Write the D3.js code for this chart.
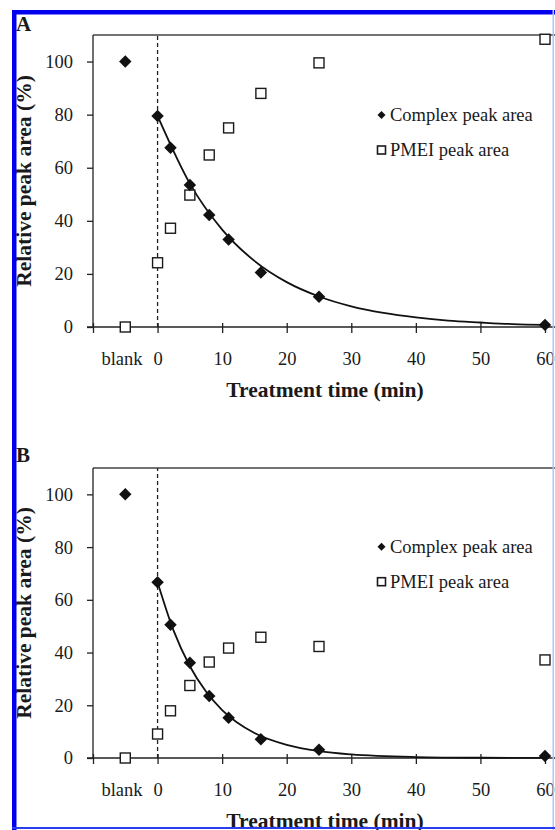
<!DOCTYPE html>
<html>
<head>
<meta charset="utf-8">
<script src="https://cdn.jsdelivr.net/npm/d3@7"></script>
<style>
  body { margin: 0; background: #fff; }
  svg { display: block; }
  text { font-family: "Liberation Serif", "Times New Roman", serif; fill: #1a1a1a; }
</style>
</head>
<body>
<div id="chart"></div>
<script>
// treatment times (min) and the "blank" sample, which sits left of t = 0
const times = [0, 2, 5, 8, 11, 16, 25, 60];
const blankTime = -5;
const xTicks = [0, 10, 20, 30, 40, 50, 60];
const yTicks = [0, 20, 40, 60, 80, 100];

// panel A
const complexA = [79.5, 67.5, 53.5, 42.2, 33, 20.5, 11.4, 0.8];
const pmeiA = [24.2, 37.2, 49.7, 64.8, 75, 88, 99.5, 108.4];
const blankComplexA = 100;
const blankPmeiA = 0;
// exponential trend line
const fitTimesA = [0, 5, 10, 15, 20, 25, 30, 35, 40, 45, 50, 55, 60];
const fitA = [79.5, 54, 36.7, 24.9, 16.9, 11.5, 7.8, 5.3, 3.6, 2.4, 1.7, 1.1, 0.8];

// panel B
const complexB = [66.7, 50.5, 36.1, 23.5, 15.3, 7.1, 3.1, 0.8];
const pmeiB = [9.1, 17.9, 27.5, 36.4, 41.7, 45.8, 42.3, 37.2];
const blankComplexB = 100;
const blankPmeiB = 0;
const fitTimesB = [0, 2.5, 5, 7.5, 10, 15, 20, 25, 30, 40, 50, 60];
const fitB = [66.7, 48.2, 34.8, 25.2, 18.2, 9.5, 5.0, 2.6, 1.35, 0.37, 0.1, 0.03];

const width = 555, height = 830;

const svg = d3.select("#chart")
  .append("svg")
  .attr("width", width)
  .attr("height", height);

// draw one panel
function drawPanel(opts) {
  const g = svg.append("g");

  let x = d3.scaleLinear()
    .domain([-10, 60])
    .range([93, 545]);

  let y = d3.scaleLinear()
    .domain([0, 110])
    .range([opts.bottom, opts.top]);

  // top frame line
  g.append("line")
    .attr("x1", x(-10)).attr("x2", width)
    .attr("y1", y(110)).attr("y2", y(110))
    .attr("stroke", "#444").attr("stroke-width", 1.3);

  // y axis
  let yAxis = g.append("g")
    .attr("transform", `translate(${x(-10)},0)`)
    .call(d3.axisLeft(y).tickValues(yTicks).tickSize(6).tickPadding(14));
  yAxis.select(".domain").attr("d", `M0,${y(0)}V${y(110)}`).attr("stroke", "#222").attr("stroke-width", 1.3);
  yAxis.selectAll(".tick line").attr("stroke", "#222").attr("stroke-width", 1.3);
  yAxis.selectAll("text").attr("font-size", "18.5px").attr("font-family", "Liberation Serif").attr("fill", "#1a1a1a");

  // x axis, ticks cross the line
  let xAxis = g.append("g")
    .attr("transform", `translate(0,${y(0)})`)
    .call(d3.axisBottom(x).tickValues([-10].concat(xTicks)).tickSize(6).tickPadding(19)
      .tickFormat((d) => d < 0 ? "" : d));
  xAxis.select(".domain").attr("d", `M${x(-10) - 6},0H${width}`).attr("stroke", "#222").attr("stroke-width", 1.3);
  xAxis.selectAll(".tick line").attr("y1", -4).attr("stroke", "#222").attr("stroke-width", 1.3);
  xAxis.selectAll("text").attr("font-size", "18.5px").attr("font-family", "Liberation Serif").attr("fill", "#1a1a1a");

  // "blank" category label
  g.append("text")
    .attr("x", 122)
    .attr("y", y(0) + 38)
    .attr("text-anchor", "middle")
    .attr("font-size", "18.5px")
    .text("blank");

  // dashed line at t = 0
  g.append("line")
    .attr("x1", x(0)).attr("x2", x(0))
    .attr("y1", y(0)).attr("y2", y(110))
    .attr("stroke", "#222").attr("stroke-width", 1.3)
    .attr("stroke-dasharray", "4,3");

  // fitted decay curve
  let fitData = opts.fitTimes.map((t, i) => ({ t: t, v: opts.fit[i] }));
  g.append("path")
    .datum(fitData)
    .attr("fill", "none")
    .attr("stroke", "#111")
    .attr("stroke-width", 1.8)
    .attr("d", d3.line().x((d) => x(d.t)).y((d) => y(d.v)).curve(d3.curveMonotoneX));

  // PMEI squares
  let pmeiData = [{ t: blankTime, v: opts.blankPmei }].concat(times.map((t, i) => ({ t: t, v: opts.pmei[i] })));
  g.selectAll(".sq")
    .data(pmeiData)
    .enter()
    .append("rect")
      .attr("class", "sq")
      .attr("x", (d) => x(d.t) - 5)
      .attr("y", (d) => y(d.v) - 5)
      .attr("width", 10)
      .attr("height", 10)
      .attr("fill", "#fff")
      .attr("stroke", "#1a1a1a")
      .attr("stroke-width", 1.4);

  // complex diamonds
  let complexData = [{ t: blankTime, v: opts.blankComplex }].concat(times.map((t, i) => ({ t: t, v: opts.complex[i] })));
  let diamond = d3.symbol().type(d3.symbolSquare).size(78);
  g.selectAll(".dm")
    .data(complexData)
    .enter()
    .append("path")
      .attr("class", "dm")
      .attr("d", diamond)
      .attr("transform", (d) => `translate(${x(d.t)},${y(d.v)}) rotate(45)`)
      .attr("fill", "#111");

  // legend
  let lg = g.append("g").attr("transform", `translate(381.5,${opts.legendY})`);
  lg.append("path")
    .attr("d", d3.symbol().type(d3.symbolSquare).size(32))
    .attr("transform", "rotate(45)")
    .attr("fill", "#111");
  lg.append("text").attr("x", 8.5).attr("y", 6).attr("font-size", "18.5px").text("Complex peak area");
  lg.append("rect")
    .attr("x", -4).attr("y", 31).attr("width", 8).attr("height", 8)
    .attr("fill", "#fff").attr("stroke", "#1a1a1a").attr("stroke-width", 1.6);
  lg.append("text").attr("x", 8.5).attr("y", 41).attr("font-size", "18.5px").text("PMEI peak area");

  // axis titles
  g.append("text")
    .attr("x", 325)
    .attr("y", y(0) + 70)
    .attr("text-anchor", "middle")
    .attr("font-size", "21.5px")
    .attr("font-weight", "bold")
    .text("Treatment time (min)");

  g.append("text")
    .attr("transform", `translate(31,${(y(0) + y(110)) / 2}) rotate(-90)`)
    .attr("text-anchor", "middle")
    .attr("font-size", "21.5px")
    .attr("font-weight", "bold")
    .text("Relative peak area (%)");

  // panel letter
  g.append("text")
    .attr("x", 16)
    .attr("y", opts.letterY)
    .attr("font-size", "21px")
    .attr("font-weight", "bold")
    .text(opts.letter);
}

drawPanel({
  top: 35, bottom: 327, legendY: 115, letter: "A", letterY: 31,
  complex: complexA, pmei: pmeiA, blankComplex: blankComplexA, blankPmei: blankPmeiA,
  fitTimes: fitTimesA, fit: fitA
});

drawPanel({
  top: 468, bottom: 758, legendY: 546.7, letter: "B", letterY: 462,
  complex: complexB, pmei: pmeiB, blankComplex: blankComplexB, blankPmei: blankPmeiB,
  fitTimes: fitTimesB, fit: fitB
});

// blue frame round the figure
svg.append("rect").attr("x", 12).attr("y", 10).attr("width", 4.5).attr("height", height - 10).attr("fill", "#0000ee");
svg.append("rect").attr("x", 12).attr("y", 10).attr("width", width - 12).attr("height", 4.5).attr("fill", "#0000ee");
svg.append("rect").attr("x", 552.5).attr("y", 10).attr("width", 1.5).attr("height", height - 10).attr("fill", "#b8c0ff");
svg.append("rect").attr("x", 12).attr("y", 827).attr("width", width - 12).attr("height", 2).attr("fill", "#2a3cf0");
</script>
</body>
</html>
